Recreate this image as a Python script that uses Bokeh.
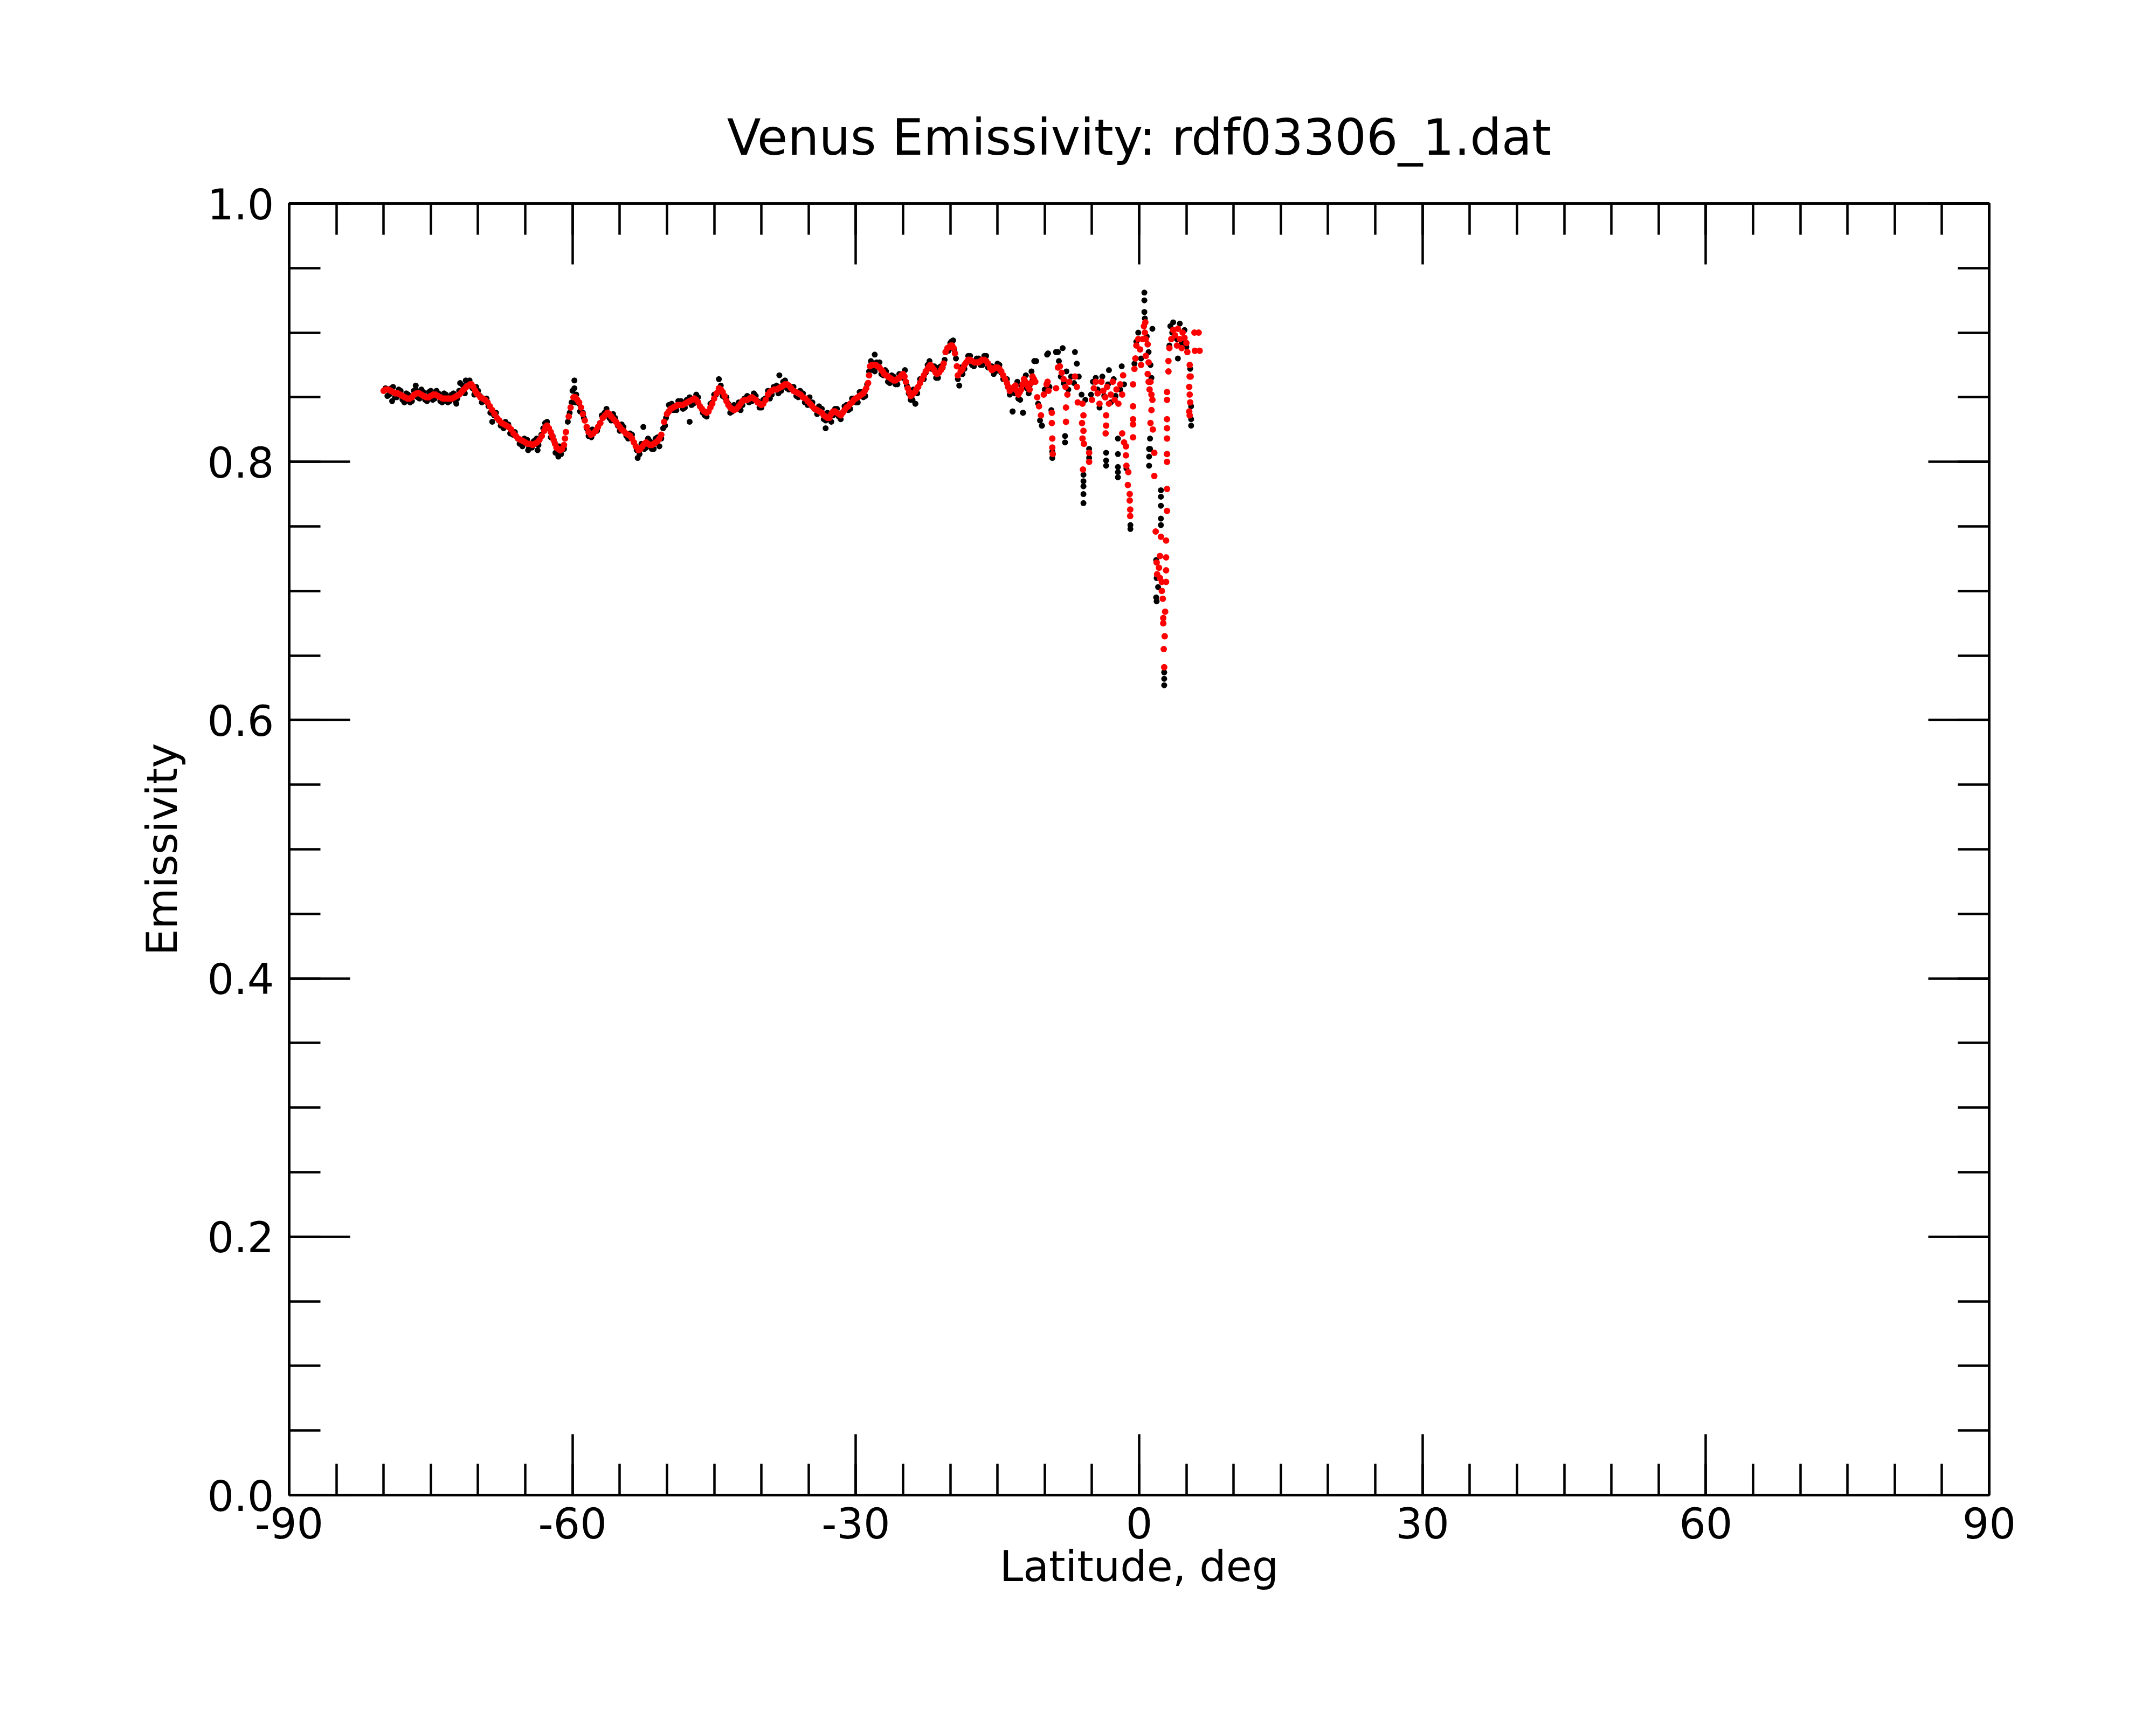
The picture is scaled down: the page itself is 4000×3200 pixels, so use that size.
from bokeh.plotting import figure
from bokeh.models import Range1d, LinearAxis, FixedTicker, PrintfTickFormatter, ColumnDataSource
from bokeh.embed import file_html
from bokeh.resources import INLINE

title_text = "Venus Emissivity: rdf03306_1.dat"
x_label = "Latitude, deg"
y_label = "Emissivity"
x_major_ticks = [-90, -60, -30, 0, 30, 60, 90]
x_minor_ticks = [-90, -85, -80, -75, -70, -65, -60, -55, -50, -45, -40, -35, -30, -25, -20, -15, -10, -5,
                 0, 5, 10, 15, 20, 25, 30, 35, 40, 45, 50, 55, 60, 65, 70, 75, 80, 85, 90]
y_major_ticks = [0.0, 0.2, 0.4, 0.6, 0.8, 1.0]
y_minor_ticks = [0.0, 0.05, 0.1, 0.15, 0.2, 0.25, 0.3, 0.35, 0.4, 0.45, 0.5, 0.55, 0.6, 0.65, 0.7,
                 0.75, 0.8, 0.85, 0.9, 0.95, 1.0]

# red series (smoothed emissivity)
red_lat = [
    -80.0, -79.5, -79.0, -78.5, -78.0, -77.5, -77.0, -76.5, -76.0, -75.5,
    -75.0, -74.5, -74.0, -73.5, -73.0, -72.5, -72.0, -71.5, -71.0, -70.7,
    -70.3, -70.0, -69.5, -69.0, -68.5, -68.0, -67.5, -67.0, -66.5, -66.0,
    -65.5, -65.0, -64.5, -64.0, -63.5, -63.0, -62.7, -62.3, -62.0, -61.7,
    -61.3, -60.9, -60.7, -60.4, -60.2, -59.9, -59.5, -59.1, -58.7, -58.3,
    -57.8, -57.3, -56.8, -56.3, -55.9, -55.4, -55.0, -54.6, -54.1, -53.7,
    -53.3, -53.0, -52.6, -52.2, -51.8, -51.4, -51.0, -50.6, -50.3, -50.0,
    -49.6, -49.1, -48.6, -48.1, -47.6, -47.1, -46.7, -46.3, -45.8, -45.4,
    -45.0, -44.5, -44.1, -43.7, -43.3, -42.9, -42.4, -42.0, -41.5, -41.0,
    -40.6, -40.2, -39.8, -39.3, -38.9, -38.4, -37.9, -37.5, -37.1, -36.6,
    -36.1, -35.6, -35.1, -34.6, -34.1, -33.6, -33.2, -32.8, -32.4, -32.0,
    -31.6, -31.2, -30.8, -30.4, -30.0, -29.6, -29.2, -28.9, -28.7, -28.6,
    -28.5, -28.1, -27.7, -27.3, -27.0, -26.6, -26.2, -25.8, -25.4, -25.0,
    -24.7, -24.5, -24.2, -23.9, -23.6, -23.2, -22.8, -22.4, -22.1, -21.7,
    -21.4, -21.0, -20.7, -20.5, -20.1, -19.8, -19.5, -19.3, -19.2, -18.9,
    -18.5, -18.1, -17.7, -17.2, -16.8, -16.4, -16.0, -15.6, -15.2, -14.8,
    -14.4, -14.0, -13.7, -13.4, -13.1, -12.8, -12.5, -12.2, -11.9, -11.6,
    -11.3, -11.0, -10.8, -10.6, -10.4, -10.1, -9.8, -9.7, -9.6, -9.25,
    -9.25, -9.2, -9.2, -9.15, -8.8, -8.6, -8.4, -8.2, -8.0, -7.8,
    -7.6, -7.4, -7.75, -7.75, -6.8, -6.6, -6.5, -6.0, -5.9, -6.05,
    -5.9, -6.0, -5.85, -5.3, -5.3, -5.95, -5.0, -4.8, -4.6, -4.4,
    -4.2, -4.0, -3.8, -3.6, -3.4, -3.2, -3.0, -2.8, -2.6, -2.4,
    -2.2, -2.0, -1.8, -1.7, -3.5, -3.5, -3.55, -1.8, -1.6, -1.4,
    -1.4, -1.35, -1.15, -1.2, -1.0, -1.0, -0.95, -0.95, -0.65, -0.65,
    -0.65, -0.65, -0.65, -0.5, -0.4, -0.3, -0.1, 0.1, 0.2, 0.4,
    0.5, 0.6, 0.7, 0.9, 0.7, 1.0, 0.9, 0.65, 1.0, 1.2,
    1.1, 1.3, 1.4, 1.3, 1.2, 1.45, 1.6, 1.6, 3.1, 3.1,
    2.95, 2.95, 2.95, 2.95, 2.95, 2.95, 2.95, 2.95, 2.95, 1.75,
    2.3, 2.85, 2.2, 2.85, 1.85, 2.1, 1.9, 2.2, 2.85, 2.4,
    2.85, 2.4, 2.5, 2.75, 2.55, 2.55, 2.7, 2.6, 2.65, 3.2,
    3.4, 3.6, 3.8, 4.0, 4.1, 4.3, 4.5, 4.6, 4.8, 5.0,
    5.1, 5.35, 5.35, 5.45, 5.3, 5.35, 5.4, 5.3, 5.35, 5.85,
    5.9, 6.3, 6.4,
]
red_emis = [
    0.855, 0.856, 0.854, 0.853, 0.851, 0.849, 0.850, 0.853, 0.852, 0.850,
    0.851, 0.852, 0.850, 0.849, 0.849, 0.850, 0.852, 0.856, 0.859, 0.860,
    0.855, 0.852, 0.849, 0.846, 0.840, 0.834, 0.830, 0.828, 0.825, 0.820,
    0.817, 0.815, 0.814, 0.814, 0.817, 0.824, 0.828, 0.823, 0.817, 0.811,
    0.809, 0.813, 0.823, 0.835, 0.842, 0.850, 0.848, 0.842, 0.832, 0.823,
    0.822, 0.827, 0.834, 0.838, 0.835, 0.831, 0.827, 0.824, 0.821, 0.818,
    0.812, 0.809, 0.812, 0.815, 0.813, 0.814, 0.816, 0.821, 0.831, 0.837,
    0.841, 0.843, 0.844, 0.845, 0.847, 0.849, 0.846, 0.841, 0.838, 0.842,
    0.849, 0.857, 0.854, 0.847, 0.842, 0.840, 0.843, 0.847, 0.848, 0.850,
    0.848, 0.845, 0.845, 0.852, 0.855, 0.856, 0.858, 0.860, 0.859, 0.855,
    0.853, 0.850, 0.847, 0.843, 0.840, 0.838, 0.835, 0.834, 0.839, 0.838,
    0.836, 0.840, 0.843, 0.846, 0.849, 0.851, 0.853, 0.857, 0.861, 0.867,
    0.874, 0.875, 0.874, 0.871, 0.868, 0.866, 0.864, 0.863, 0.865, 0.868,
    0.862, 0.857, 0.851, 0.853, 0.856, 0.861, 0.867, 0.872, 0.875, 0.871,
    0.868, 0.871, 0.876, 0.885, 0.889, 0.890, 0.884, 0.874, 0.867, 0.870,
    0.875, 0.879, 0.878, 0.877, 0.878, 0.879, 0.876, 0.871, 0.873, 0.872,
    0.867, 0.861, 0.855, 0.857, 0.859, 0.852, 0.856, 0.864, 0.860, 0.856,
    0.866, 0.862, 0.850, 0.843, 0.836, 0.852, 0.860, 0.862, 0.855, 0.838,
    0.830, 0.818, 0.811, 0.806, 0.857, 0.873, 0.874, 0.869, 0.864, 0.858,
    0.852, 0.862, 0.842, 0.831, 0.866, 0.858, 0.846, 0.845, 0.836, 0.830,
    0.824, 0.818, 0.814, 0.807, 0.800, 0.794, 0.848, 0.857, 0.862, 0.853,
    0.845, 0.862, 0.855, 0.850, 0.858, 0.845, 0.852, 0.862, 0.848, 0.856,
    0.845, 0.860, 0.852, 0.867, 0.836, 0.828, 0.822, 0.822, 0.815, 0.812,
    0.805, 0.797, 0.792, 0.782, 0.775, 0.770, 0.763, 0.758, 0.860, 0.843,
    0.833, 0.829, 0.819, 0.872, 0.880, 0.890, 0.895, 0.887, 0.875, 0.895,
    0.905, 0.900, 0.895, 0.891, 0.882, 0.877, 0.868, 0.908, 0.862, 0.862,
    0.856, 0.852, 0.848, 0.840, 0.830, 0.825, 0.807, 0.789, 0.878, 0.870,
    0.854, 0.848, 0.833, 0.826, 0.818, 0.806, 0.800, 0.779, 0.762, 0.746,
    0.742, 0.739, 0.727, 0.726, 0.722, 0.718, 0.713, 0.710, 0.716, 0.707,
    0.707, 0.700, 0.694, 0.684, 0.679, 0.675, 0.665, 0.655, 0.641, 0.888,
    0.895, 0.902, 0.898, 0.890, 0.903, 0.895, 0.888, 0.900, 0.896, 0.892,
    0.885, 0.875, 0.866, 0.866, 0.858, 0.852, 0.846, 0.839, 0.836, 0.900,
    0.886, 0.900, 0.886,
]

# further red readings between the ones above (smooth part of the track)
red_lat_more = [
    -79.75, -79.25, -78.75, -78.25, -77.75, -77.25, -76.75, -76.25, -75.75, -75.25,
    -74.75, -74.25, -73.75, -73.25, -72.75, -72.25, -71.75, -71.25, -70.85, -70.5,
    -70.15, -69.75, -69.25, -68.75, -68.25, -67.75, -67.25, -66.75, -66.25, -65.75,
    -65.25, -64.75, -64.25, -63.75, -63.25, -62.85, -62.5, -62.15, -61.85, -61.5,
    -61.1, -60.8, -59.7, -59.3, -58.9, -58.5, -58.05, -57.55, -57.05, -56.55,
    -56.1, -55.65, -55.2, -54.8, -54.35, -53.9, -53.5, -52.8, -52.4, -52.0,
    -51.6, -51.2, -50.8, -49.8, -49.35, -48.85, -48.35, -47.85, -47.35, -46.9,
    -46.5, -46.05, -45.6, -45.2, -44.75, -44.3, -43.9, -43.5, -43.1, -42.65,
    -42.2, -41.75, -41.25, -40.8, -40.4, -40.0, -39.55, -39.1, -38.65, -38.15,
    -37.7, -37.3, -36.85, -36.35, -35.85, -35.35, -34.85, -34.35, -33.85, -33.4,
    -33.0, -32.6, -32.2, -31.8, -31.4, -31.0, -30.6, -30.2, -29.8, -29.4,
    -29.05, -28.3, -27.9, -27.5, -27.15, -26.8, -26.4, -26.0, -25.6, -25.2,
    -24.85, -24.35, -24.05, -23.75, -23.4, -23.0, -22.6, -22.25, -21.9, -21.55,
    -21.2, -20.85, -20.3, -19.95, -19.65, -18.7, -18.3, -17.9, -17.45, -17.0,
    -16.6, -16.2, -15.8, -15.4, -15.0, -14.6, -14.2, -13.85, -13.55, -13.25,
    -12.95, -12.65, -12.35, -12.05, -11.75, -11.45, -11.15,
]
red_emis_more = [
    0.856, 0.855, 0.853, 0.852, 0.850, 0.849, 0.852, 0.853, 0.851, 0.850,
    0.852, 0.851, 0.849, 0.849, 0.849, 0.851, 0.854, 0.858, 0.860, 0.858,
    0.853, 0.850, 0.848, 0.843, 0.837, 0.832, 0.829, 0.827, 0.822, 0.818,
    0.816, 0.814, 0.813, 0.815, 0.820, 0.827, 0.826, 0.820, 0.814, 0.810,
    0.810, 0.818, 0.850, 0.846, 0.837, 0.827, 0.821, 0.824, 0.830, 0.836,
    0.837, 0.833, 0.829, 0.825, 0.822, 0.820, 0.815, 0.810, 0.814, 0.814,
    0.813, 0.815, 0.818, 0.839, 0.842, 0.844, 0.844, 0.846, 0.848, 0.848,
    0.843, 0.839, 0.839, 0.845, 0.853, 0.856, 0.851, 0.844, 0.841, 0.841,
    0.845, 0.848, 0.849, 0.849, 0.846, 0.844, 0.848, 0.854, 0.856, 0.857,
    0.859, 0.860, 0.857, 0.854, 0.852, 0.849, 0.845, 0.841, 0.839, 0.836,
    0.834, 0.837, 0.839, 0.837, 0.838, 0.842, 0.845, 0.848, 0.850, 0.852,
    0.855, 0.875, 0.875, 0.873, 0.870, 0.867, 0.865, 0.863, 0.864, 0.867,
    0.866, 0.854, 0.852, 0.854, 0.858, 0.864, 0.870, 0.874, 0.873, 0.869,
    0.869, 0.873, 0.888, 0.890, 0.888, 0.872, 0.877, 0.879, 0.877, 0.877,
    0.879, 0.878, 0.873, 0.872, 0.873, 0.870, 0.864, 0.858, 0.856, 0.858,
    0.855, 0.854, 0.860, 0.862, 0.858, 0.861, 0.864,
]

# black series (raw emissivity)
black_lat = [
    -79.8, -79.4, -79.0, -78.6, -78.2, -77.8, -77.4, -77.0, -76.6, -76.2,
    -75.8, -75.4, -75.0, -74.6, -74.2, -73.8, -73.4, -73.0, -72.6, -72.2,
    -71.6, -71.1, -70.6, -70.2, -69.8, -69.3, -68.9, -68.3, -67.8, -67.3,
    -66.8, -66.3, -65.8, -65.3, -64.8, -64.3, -63.8, -63.3, -62.9, -62.5,
    -62.1, -61.8, -61.4, -60.9, -60.3, -60.0, -59.7, -59.3, -58.9, -58.5,
    -58.0, -57.6, -57.1, -56.6, -56.1, -55.7, -55.2, -54.8, -54.3, -53.9,
    -53.5, -52.9, -52.4, -52.0, -51.6, -51.2, -50.8, -50.4, -50.1, -49.8,
    -49.3, -48.8, -48.3, -47.9, -47.4, -46.9, -46.5, -46.0, -45.6, -45.2,
    -44.8, -44.3, -43.9, -43.5, -43.1, -42.7, -42.2, -41.8, -41.3, -40.8,
    -40.4, -40.0, -39.6, -39.1, -38.7, -38.2, -37.7, -37.3, -36.8, -36.3,
    -35.9, -35.4, -34.9, -34.4, -33.9, -33.4, -33.0, -32.6, -32.2, -31.8,
    -31.4, -31.0, -30.6, -30.2, -29.8, -29.4, -29.0, -28.8, -28.4, -28.0,
    -27.5, -27.1, -26.8, -26.4, -26.0, -25.6, -25.2, -24.8, -24.4, -24.0,
    -23.7, -23.4, -23.0, -22.6, -22.2, -21.9, -21.5, -21.2, -20.8, -20.3,
    -20.0, -19.7, -19.4, -19.05, -18.7, -18.3, -17.9, -17.5, -17.0, -16.6,
    -16.2, -15.8, -15.4, -15.0, -14.6, -14.2, -13.9, -13.4, -13.2, -12.9,
    -12.6, -12.3, -12.0, -11.7, -11.4, -11.1, -10.9, -10.7, -10.5, -10.3,
    -10.0, -9.75, -9.65, -9.5, -9.3, -9.2, -9.2, -8.8, -8.6, -8.5,
    -8.3, -8.1, -8.0, -7.85, -7.85, -7.7, -7.5, -7.2, -6.9, -6.8,
    -6.6, -6.4, -6.1, -5.9, -5.9, -5.9, -5.9, -5.9, -5.7, -5.3,
    -5.3, -5.1, -4.9, -4.6, -4.4, -4.2, -3.9, -3.7, -3.5, -3.5,
    -3.5, -3.3, -3.2, -3.0, -2.7, -2.5, -2.25, -2.25, -2.25, -2.25,
    -2.25, -2.0, -1.85, -1.6, -1.4, -1.35, -0.93, -0.93, -0.5, -0.3,
    -0.1, 0.2, 0.55, 0.55, 0.55, 0.6, 0.8, 1.0, 1.2, 1.3,
    1.4, 1.05, 1.05, 1.05, 1.15, 1.15, 2.3, 2.3, 2.3, 2.3,
    2.3, 1.8, 1.85, 2.0, 1.8, 1.85, 2.65, 2.65, 2.65, 3.2,
    3.3, 3.5, 3.6, 4.0, 4.1, 4.3, 4.5, 4.8, 5.0, 5.4,
    5.5, 5.5, 5.5, -47.6, -33.2, -44.5, -38.1, -53.1, -52.5, -79.1,
    -76.6, -72.3, -71.9, -71.3, -68.5, -61.5, -59.8, -59.8, -63.7, -64.7,
    -23.7, -28.0, -11.1, -12.3, -13.4, -10.3, -8.8,
]
black_emis = [
    0.857, 0.852, 0.858, 0.850, 0.855, 0.846, 0.852, 0.847, 0.856, 0.849,
    0.854, 0.847, 0.855, 0.849, 0.853, 0.846, 0.852, 0.847, 0.853, 0.849,
    0.859, 0.862, 0.857, 0.858, 0.851, 0.847, 0.843, 0.836, 0.832, 0.826,
    0.829, 0.821, 0.818, 0.812, 0.817, 0.811, 0.818, 0.821, 0.830, 0.826,
    0.820, 0.807, 0.812, 0.810, 0.838, 0.855, 0.846, 0.845, 0.838, 0.826,
    0.819, 0.824, 0.830, 0.838, 0.834, 0.837, 0.828, 0.829, 0.820, 0.822,
    0.815, 0.806, 0.810, 0.818, 0.810, 0.818, 0.812, 0.826, 0.834, 0.844,
    0.840, 0.847, 0.841, 0.848, 0.844, 0.852, 0.843, 0.836, 0.839, 0.846,
    0.852, 0.859, 0.850, 0.845, 0.839, 0.843, 0.840, 0.849, 0.846, 0.853,
    0.847, 0.842, 0.849, 0.849, 0.858, 0.853, 0.862, 0.857, 0.858, 0.851,
    0.855, 0.846, 0.850, 0.841, 0.843, 0.833, 0.838, 0.831, 0.841, 0.835,
    0.838, 0.844, 0.841, 0.849, 0.846, 0.854, 0.851, 0.860, 0.878, 0.870,
    0.877, 0.867, 0.870, 0.861, 0.866, 0.860, 0.867, 0.871, 0.853, 0.848,
    0.845, 0.858, 0.864, 0.869, 0.878, 0.872, 0.865, 0.873, 0.873, 0.888,
    0.892, 0.894, 0.880, 0.859, 0.868, 0.877, 0.882, 0.874, 0.880, 0.875,
    0.882, 0.874, 0.868, 0.876, 0.869, 0.864, 0.858, 0.839, 0.853, 0.862,
    0.848, 0.838, 0.867, 0.853, 0.870, 0.878, 0.878, 0.845, 0.832, 0.828,
    0.856, 0.883, 0.884, 0.858, 0.840, 0.808, 0.803, 0.885, 0.885, 0.878,
    0.866, 0.888, 0.861, 0.820, 0.815, 0.870, 0.856, 0.866, 0.861, 0.885,
    0.876, 0.866, 0.852, 0.790, 0.785, 0.781, 0.775, 0.768, 0.848, 0.810,
    0.803, 0.852, 0.862, 0.865, 0.856, 0.842, 0.866, 0.851, 0.807, 0.801,
    0.797, 0.860, 0.871, 0.846, 0.864, 0.851, 0.818, 0.806, 0.796, 0.792,
    0.788, 0.856, 0.874, 0.860, 0.812, 0.795, 0.751, 0.748, 0.876, 0.893,
    0.900, 0.880, 0.931, 0.925, 0.916, 0.911, 0.897, 0.885, 0.875, 0.865,
    0.903, 0.810, 0.804, 0.797, 0.818, 0.810, 0.778, 0.773, 0.766, 0.756,
    0.751, 0.724, 0.710, 0.703, 0.695, 0.692, 0.637, 0.632, 0.627, 0.890,
    0.905, 0.900, 0.908, 0.895, 0.880, 0.907, 0.892, 0.902, 0.889, 0.872,
    0.843, 0.833, 0.828, 0.831, 0.826, 0.864, 0.867, 0.803, 0.827, 0.847,
    0.859, 0.845, 0.861, 0.863, 0.831, 0.804, 0.863, 0.857, 0.809, 0.809,
    0.845, 0.883, 0.878, 0.838, 0.839, 0.828, 0.885,
]

# further black readings (scatter fringe around the red track)
black_lat_more = [
    -79.6, -79.2, -78.8, -78.4, -78.0, -77.6, -77.2, -76.8, -76.4, -76.0,
    -75.6, -75.2, -74.8, -74.4, -74.0, -73.6, -73.2, -72.8, -72.4, -72.0,
    -71.4, -70.9, -70.4, -70.0, -69.6, -69.1, -68.7, -68.1, -67.6, -67.1,
    -66.6, -66.1, -65.6, -65.1, -64.6, -64.1, -63.6, -63.1, -62.7, -62.3,
    -61.9, -61.6, -61.2, -60.5, -60.1, -59.6, -59.2, -58.8, -58.3, -57.9,
    -57.4, -56.9, -56.4, -55.9, -55.5, -55.0, -54.6, -54.1, -53.7, -53.2,
    -52.7, -52.2, -51.8, -51.4, -51.0, -50.6, -50.2, -49.9, -49.5, -49.0,
    -48.5, -48.1, -47.6, -47.2, -46.7, -46.2, -45.8, -45.4, -45.0, -44.6,
    -44.1, -43.7, -43.3, -42.9, -42.4, -42.0, -41.5, -41.0, -40.6, -40.2,
    -39.8, -39.3, -38.9, -38.4, -37.9, -37.5, -37.1, -36.6, -36.1, -35.6,
    -35.1, -34.6, -34.1, -33.6, -33.2, -32.8, -32.4, -32.0, -31.6, -31.2,
    -30.8, -30.4, -30.0, -29.6, -29.2, -28.6, -28.2, -27.8, -27.3, -26.9,
    -26.6, -26.2, -25.8, -25.4, -25.0, -24.6, -24.2, -23.9, -23.5, -23.2,
    -22.8, -22.4, -22.0, -21.7, -21.3, -21.0, -20.6, -20.2, -19.9, -19.6,
    -19.2, -18.9, -18.5, -18.1, -17.7, -17.2, -16.8, -16.4, -16.0, -15.6,
    -15.2, -14.8, -14.4, -14.0, -13.7, -13.1, -12.8, -12.5, -12.2, -11.9,
    -11.6, -11.3,
]
black_emis_more = [
    0.851, 0.857, 0.850, 0.856, 0.848, 0.853, 0.846, 0.855, 0.850, 0.856,
    0.848, 0.854, 0.848, 0.855, 0.847, 0.853, 0.846, 0.852, 0.847, 0.855,
    0.853, 0.863, 0.852, 0.855, 0.846, 0.849, 0.838, 0.838, 0.828, 0.831,
    0.822, 0.823, 0.814, 0.818, 0.811, 0.816, 0.813, 0.826, 0.831, 0.819,
    0.815, 0.808, 0.806, 0.831, 0.846, 0.852, 0.839, 0.834, 0.820, 0.825,
    0.824, 0.836, 0.841, 0.832, 0.834, 0.824, 0.827, 0.818, 0.821, 0.809,
    0.814, 0.811, 0.816, 0.810, 0.819, 0.818, 0.828, 0.838, 0.845, 0.840,
    0.847, 0.842, 0.850, 0.845, 0.850, 0.838, 0.835, 0.845, 0.852, 0.854,
    0.851, 0.850, 0.838, 0.844, 0.846, 0.844, 0.851, 0.847, 0.851, 0.842,
    0.848, 0.855, 0.852, 0.859, 0.855, 0.863, 0.856, 0.858, 0.850, 0.853,
    0.844, 0.846, 0.837, 0.841, 0.832, 0.837, 0.836, 0.841, 0.833, 0.843,
    0.840, 0.849, 0.846, 0.854, 0.850, 0.870, 0.872, 0.877, 0.868, 0.871,
    0.862, 0.867, 0.860, 0.868, 0.865, 0.859, 0.848, 0.856, 0.853, 0.864,
    0.864, 0.875, 0.872, 0.874, 0.865, 0.874, 0.879, 0.886, 0.893, 0.887,
    0.864, 0.873, 0.872, 0.882, 0.875, 0.880, 0.875, 0.882, 0.873, 0.874,
    0.870, 0.875, 0.864, 0.864, 0.852, 0.856, 0.849, 0.859, 0.861, 0.857,
    0.859, 0.863,
]

FONT = "DejaVu Sans"
LW = 4.5

p = figure(width=3984, height=3184,
           x_range=Range1d(-90, 90), y_range=Range1d(0, 1),
           output_backend="svg", toolbar_location=None,
           x_axis_type=None, y_axis_type=None,
           min_border_left=536, min_border_right=294,
           min_border_top=377, min_border_bottom=411)
p.background_fill_color = "white"
p.border_fill_color = "white"
p.outline_line_color = "black"
p.outline_line_width = LW
p.xgrid.visible = False
p.ygrid.visible = False

p.title.text = title_text
p.title.align = "center"
p.title.text_font = FONT
p.title.text_font_size = "92px"
p.title.text_font_style = "normal"
p.title.text_color = "black"
p.title.standoff = 138


def make_axis(major, minor, fmt, labelled, label=None, standoff=25, label_standoff=30):
    ax = LinearAxis(ticker=FixedTicker(ticks=major, minor_ticks=minor),
                    formatter=PrintfTickFormatter(format=fmt))
    ax.major_tick_in = 113
    ax.major_tick_out = 0
    ax.minor_tick_in = 58
    ax.minor_tick_out = 0
    ax.axis_line_width = LW
    ax.major_tick_line_width = LW
    ax.minor_tick_line_width = LW
    ax.axis_line_color = "black"
    ax.major_tick_line_color = "black"
    ax.minor_tick_line_color = "black"
    if labelled:
        ax.major_label_text_font = FONT
        ax.major_label_text_font_size = "78px"
        ax.major_label_text_color = "black"
        ax.major_label_standoff = standoff
        if label:
            ax.axis_label = label
            ax.axis_label_text_font = FONT
            ax.axis_label_text_font_size = "78px"
            ax.axis_label_text_font_style = "normal"
            ax.axis_label_text_color = "black"
            ax.axis_label_standoff = label_standoff
    else:
        ax.major_label_text_font_size = "0px"
        ax.major_label_text_alpha = 0
        ax.major_label_standoff = 0
    return ax


p.add_layout(make_axis(x_major_ticks, x_minor_ticks, "%d", True, x_label, 22, 4), "below")
p.add_layout(make_axis(y_major_ticks, y_minor_ticks, "%.1f", True, y_label, 28, 35), "left")
p.add_layout(make_axis(x_major_ticks, x_minor_ticks, "%d", False), "above")
p.add_layout(make_axis(y_major_ticks, y_minor_ticks, "%.1f", False), "right")

black_src = ColumnDataSource(dict(lat=black_lat + black_lat_more,
                                  emis=black_emis + black_emis_more))
red_src = ColumnDataSource(dict(lat=red_lat + red_lat_more,
                                emis=red_emis + red_emis_more))
p.scatter("lat", "emis", source=black_src, size=11, marker="circle",
          fill_color="black", line_color="black", line_width=0)
p.scatter("lat", "emis", source=red_src, size=12, marker="circle",
          fill_color="red", line_color="red", line_width=0)

with open("out.html", "w") as f:
    f.write(file_html(p, INLINE))
